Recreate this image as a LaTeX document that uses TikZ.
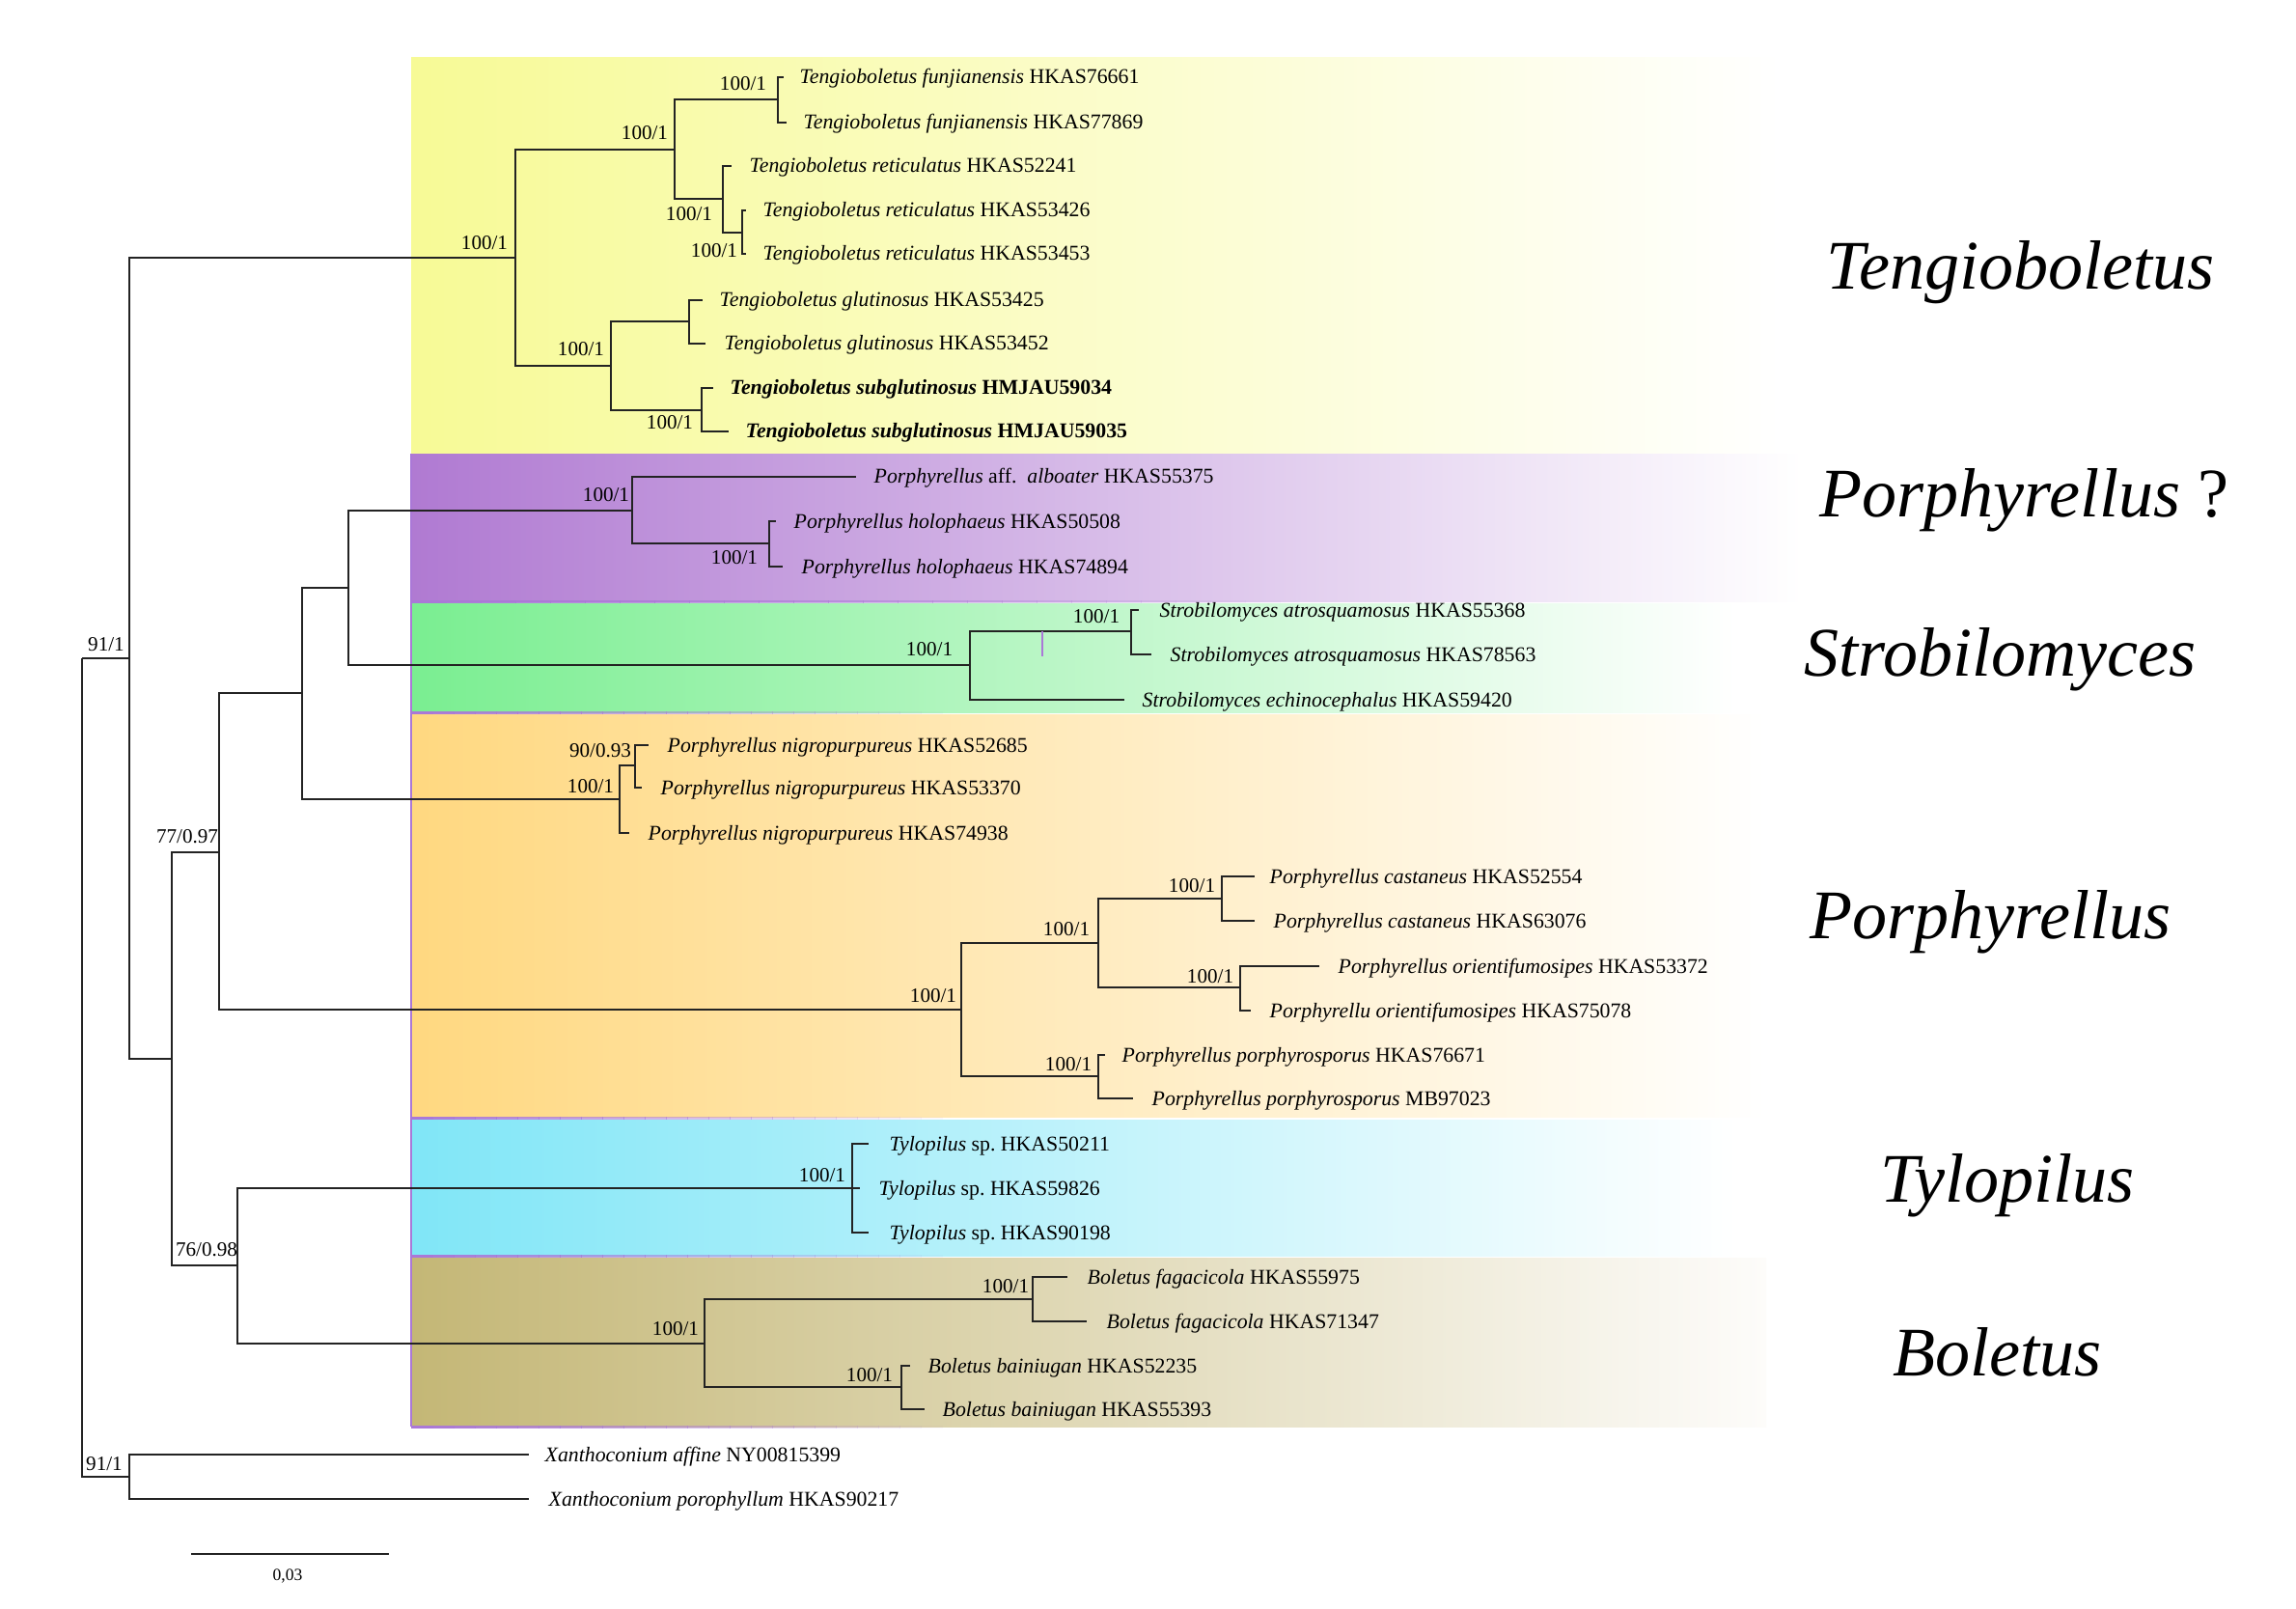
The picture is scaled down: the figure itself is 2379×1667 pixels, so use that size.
\documentclass[tikz,border=0pt]{standalone}
\usepackage{fontspec}
\setmainfont{Liberation Serif}
\newcommand\leaffont{\fontsize{6.2}{7}\selectfont}
\newcommand\bsfont{\fontsize{6.0}{7}\selectfont}
\newcommand\cladefont{\fontsize{20.5}{24}\selectfont\itshape}
\definecolor{cy}{RGB}{247,250,150}
\definecolor{cp}{RGB}{176,122,210}
\definecolor{cg}{RGB}{122,238,145}
\definecolor{co}{RGB}{255,216,128}
\definecolor{cc}{RGB}{128,230,247}
\definecolor{ct}{RGB}{196,183,118}
\definecolor{ctr}{RGB}{253,252,250}
\definecolor{bord}{RGB}{170,120,215}
\definecolor{brc}{RGB}{35,35,35}
\newcommand\leaf[6]{%
  \coordinate (#1) at (#3,#4);
  \node[leaf] (#1t) at (#5,#4+7) {#6};
  \draw[br] (#2) |- (#1);}
\newcommand\bsl[3]{\node[bs] (#1) at (#2) {#3};}
% fading border line: #1 = y, #2 = segment length (25 segments)
\newcommand\bordline[2]{%
  \foreach \i in {0,...,24}{%
    \pgfmathsetmacro\xa{426+\i*#2}%
    \pgfmathsetmacro\xb{426+(\i+1)*#2+0.5}%
    \pgfmathsetmacro\op{1-\i/25}%
    \fill[bord,opacity=\op] (\xa,#1) rectangle (\xb,#1+3);}}
\begin{document}
\begin{tikzpicture}[x=0.01cm,y=-0.01cm,
  br/.style={line width=0.7pt,draw=brc},
  leaf/.style={anchor=base west,inner sep=0pt,font=\leaffont},
  bs/.style={inner sep=0pt,font=\bsfont},
  clade/.style={anchor=base west,inner sep=0pt,font=\cladefont}]
\useasboundingbox (0,0) rectangle (2379,1667);
\fill[white] (0,0) rectangle (2379,1667);
% coloured clade boxes
\shade[left color=cy,right color=white] (426,60) rectangle (1845,469);
\shade[left color=cp,right color=white] (426,470) rectangle (1868,623);
\shade[left color=cg,right color=white] (426,625) rectangle (1800,738);
\shade[left color=co,right color=white] (426,740) rectangle (1830,1157);
\shade[left color=cc,right color=white] (426,1160) rectangle (1800,1301);
\shade[left color=ct,right color=ctr] (426,1303) rectangle (1830,1478);
% box borders
\draw[bord,line width=0.4pt] (426,470) -- (426,1478);
\bordline{622}{36}
\bordline{737}{22}
\bordline{1157}{22}
\bordline{1300}{22}
\bordline{1477}{22}
% internal nodes
\coordinate (R) at (85,682);
\coordinate (A) at (134,682);
\coordinate (X) at (134,1530);
\coordinate (T) at (534,267);
\coordinate (T1) at (699,155);
\coordinate (T11) at (806,103);
\coordinate (T12) at (749,206);
\coordinate (T121) at (769,241);
\coordinate (T2) at (633,379);
\coordinate (T21) at (714,333);
\coordinate (T22) at (727,425);
\coordinate (B) at (178,1097);
\coordinate (C) at (227,883);
\coordinate (D) at (246,1311);
\coordinate (E) at (313,718);
\coordinate (F) at (361,609);
\coordinate (G) at (655,529);
\coordinate (G2) at (797,563);
\coordinate (S) at (1005,689);
\coordinate (S1) at (1172,654);
\coordinate (N) at (642,828);
\coordinate (N1) at (658,793);
\coordinate (P) at (996,1046);
\coordinate (P1) at (1138,977);
\coordinate (P11) at (1266,931);
\coordinate (P12) at (1285,1023);
\coordinate (P2) at (1138,1115);
\coordinate (Ty) at (883,1231);
\coordinate (Bo) at (730,1392);
\coordinate (Bo1) at (1070,1346);
\coordinate (Bo2) at (934,1437);
% internal branches
\draw[br] (R) |- (A);
\draw[br] (R) |- (X);
\draw[br] (A) |- (T);
\draw[br] (A) |- (B);
\draw[br] (T) |- (T1);
\draw[br] (T) |- (T2);
\draw[br] (T1) |- (T11);
\draw[br] (T1) |- (T12);
\draw[br] (T12) |- (T121);
\draw[br] (T2) |- (T21);
\draw[br] (T2) |- (T22);
\draw[br] (B) |- (C);
\draw[br] (B) |- (D);
\draw[br] (C) |- (E);
\draw[br] (C) |- (P);
\draw[br] (E) |- (F);
\draw[br] (E) |- (N);
\draw[br] (F) |- (G);
\draw[br] (F) |- (S);
\draw[br] (G) |- (G2);
\draw[br] (S) |- (S1);
\draw[br] (N) |- (N1);
\draw[br] (P) |- (P1);
\draw[br] (P) |- (P2);
\draw[br] (P1) |- (P11);
\draw[br] (P1) |- (P12);
\draw[br] (D) |- (Ty);
\draw[br] (D) |- (Bo);
\draw[br] (Bo) |- (Bo1);
\draw[br] (Bo) |- (Bo2);
% small purple tick
\coordinate (tk1) at (1080,654);
\coordinate (tk2) at (1080,680);
\draw[bord,line width=0.5pt] (tk1) -- (tk2);
% leaves
\leaf{L1}{T11}{812}{80}{828}{\textit{Tengioboletus funjianensis} HKAS76661}
\leaf{L2}{T11}{815}{127}{832}{\textit{Tengioboletus funjianensis} HKAS77869}
\leaf{L3}{T12}{758}{172}{776}{\textit{Tengioboletus reticulatus} HKAS52241}
\leaf{L4}{T121}{773}{218}{790}{\textit{Tengioboletus reticulatus} HKAS53426}
\leaf{L5}{T121}{773}{263}{790}{\textit{Tengioboletus reticulatus} HKAS53453}
\leaf{L6}{T21}{728}{311}{745}{\textit{Tengioboletus glutinosus} HKAS53425}
\leaf{L7}{T21}{731}{356}{750}{\textit{Tengioboletus glutinosus} HKAS53452}
\leaf{L8}{T22}{739}{402}{756}{\textbf{\textit{Tengioboletus subglutinosus} HMJAU59034}}
\leaf{L9}{T22}{755}{447}{772}{\textbf{\textit{Tengioboletus subglutinosus} HMJAU59035}}
\leaf{L10}{G}{887}{494}{905}{\textit{Porphyrellus} aff.\ \ \textit{alboater} HKAS55375}
\leaf{L11}{G2}{804}{540}{822}{\textit{Porphyrellus holophaeus} HKAS50508}
\leaf{L12}{G2}{811}{587}{830}{\textit{Porphyrellus holophaeus} HKAS74894}
\leaf{L13}{S1}{1180}{632}{1201}{\textit{Strobilomyces atrosquamosus} HKAS55368}
\leaf{L14}{S1}{1193}{678}{1212}{\textit{Strobilomyces atrosquamosus} HKAS78563}
\leaf{L15}{S}{1165}{725}{1183}{\textit{Strobilomyces echinocephalus} HKAS59420}
\leaf{L16}{N1}{672}{772}{691}{\textit{Porphyrellus nigropurpureus} HKAS52685}
\leaf{L17}{N1}{665}{816}{684}{\textit{Porphyrellus nigropurpureus} HKAS53370}
\leaf{L18}{N}{652}{863}{671}{\textit{Porphyrellus nigropurpureus} HKAS74938}
\leaf{L19}{P11}{1300}{908}{1315}{\textit{Porphyrellus castaneus} HKAS52554}
\leaf{L20}{P11}{1300}{954}{1319}{\textit{Porphyrellus castaneus} HKAS63076}
\leaf{L21}{P12}{1367}{1001}{1386}{\textit{Porphyrellus orientifumosipes} HKAS53372}
\leaf{L22}{P12}{1296}{1047}{1315}{\textit{Porphyrellu orientifumosipes} HKAS75078}
\leaf{L23}{P2}{1145}{1093}{1162}{\textit{Porphyrellus porphyrosporus} HKAS76671}
\leaf{L24}{P2}{1174}{1138}{1193}{\textit{Porphyrellus porphyrosporus} MB97023}
\leaf{L25}{Ty}{900}{1185}{921}{\textit{Tylopilus} sp.\ HKAS50211}
\leaf{L26}{Ty}{891}{1231}{910}{\textit{Tylopilus} sp.\ HKAS59826}
\leaf{L27}{Ty}{900}{1277}{921}{\textit{Tylopilus} sp.\ HKAS90198}
\leaf{L28}{Bo1}{1106}{1323}{1126}{\textit{Boletus fagacicola} HKAS55975}
\leaf{L29}{Bo1}{1126}{1369}{1146}{\textit{Boletus fagacicola} HKAS71347}
\leaf{L30}{Bo2}{943}{1415}{961}{\textit{Boletus bainiugan} HKAS52235}
\leaf{L31}{Bo2}{958}{1460}{976}{\textit{Boletus bainiugan} HKAS55393}
\leaf{L32}{X}{548}{1507}{564}{\textit{Xanthoconium affine} NY00815399}
\leaf{L33}{X}{548}{1553}{568}{\textit{Xanthoconium porophyllum} HKAS90217}
% support values
\bsl{lA}{110,668}{91/1}
\bsl{lX}{108,1517}{91/1}
\bsl{lT}{502,252}{100/1}
\bsl{lT1}{668,138}{100/1}
\bsl{lT11}{770,87}{100/1}
\bsl{lT12}{714,222}{100/1}
\bsl{lT121}{740,260}{100/1}
\bsl{lT2}{602,362}{100/1}
\bsl{lT22}{694,438}{100/1}
\bsl{lC}{194,867}{77/0.97}
\bsl{lD}{214,1295}{76/0.98}
\bsl{lG}{628,513}{100/1}
\bsl{lG2}{761,578}{100/1}
\bsl{lS}{963,673}{100/1}
\bsl{lS1}{1136,639}{100/1}
\bsl{lN}{612,815}{100/1}
\bsl{lN1}{622,778}{90/0.93}
\bsl{lP}{967,1032}{100/1}
\bsl{lP1}{1105,963}{100/1}
\bsl{lP11}{1235,918}{100/1}
\bsl{lP12}{1254,1012}{100/1}
\bsl{lP2}{1107,1103}{100/1}
\bsl{lTy}{852,1218}{100/1}
\bsl{lBo}{700,1377}{100/1}
\bsl{lBo1}{1042,1333}{100/1}
\bsl{lBo2}{901,1425}{100/1}
% clade names
\node[clade] (cT) at (1892,300) {Tengioboletus};
\node[clade] (cPq) at (1885,535) {Porphyrellus\/ \upshape ?};
\node[clade] (cS) at (1869,700) {Strobilomyces};
\node[clade] (cP) at (1875,972) {Porphyrellus};
\node[clade] (cTy) at (1948,1245) {Tylopilus};
\node[clade] (cB) at (1961,1425) {Boletus};
% scale bar
\coordinate (sb1) at (198,1610);
\coordinate (sb2) at (403,1610);
\draw[br] (sb1) -- (sb2);
\node[inner sep=0pt,font=\fontsize{5}{6}\selectfont] (sbl) at (298,1633) {0,03};
\end{tikzpicture}
\end{document}
